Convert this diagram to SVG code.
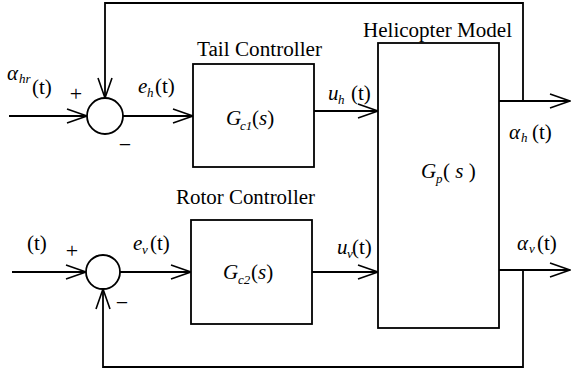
<svg xmlns="http://www.w3.org/2000/svg" width="571" height="369" viewBox="0 0 571 369">
  <style>
    .ln { fill: none; stroke: #000; stroke-width: 1.8; }
    .blk { fill: #fff; stroke: #000; stroke-width: 1.8; }
    .ah { fill: none; stroke: #000; stroke-width: 1.6; stroke-linejoin: miter; }
    text { font-family: "Liberation Serif", "Times New Roman", Times, "DejaVu Serif", serif; fill: #000; }
    .lbl { font-size: 20.5px; }
    .v { font-size: 21px; font-style: italic; }
    .sub { font-size: 13px; font-style: italic; }
    .r { font-size: 21px; }
    .sg { font-size: 22px; }
  </style>
  <defs>
    <!-- open chevron arrowhead -->
    <marker id="arr" viewBox="0 0 22 16" refX="21" refY="8" markerWidth="22" markerHeight="16" markerUnits="userSpaceOnUse" orient="auto">
      <path class="ah" d="M1,1 L21,8 L1,15"/>
    </marker>
  </defs>

  <!-- connectors -->
  <g id="connectors">
    <line class="ln" x1="9" y1="116" x2="87" y2="116" marker-end="url(#arr)"/>
    <line class="ln" x1="123" y1="116" x2="193" y2="116" marker-end="url(#arr)"/>
    <line class="ln" x1="314" y1="111" x2="378" y2="111" marker-end="url(#arr)"/>
    <line class="ln" x1="499" y1="101" x2="570" y2="101" marker-end="url(#arr)"/>
    <polyline class="ln" points="523,101 523,3 105,3 105,98" marker-end="url(#arr)"/>

    <line class="ln" x1="12" y1="272" x2="86" y2="272" marker-end="url(#arr)"/>
    <line class="ln" x1="120" y1="272" x2="191" y2="272" marker-end="url(#arr)"/>
    <line class="ln" x1="312" y1="272" x2="378" y2="272" marker-end="url(#arr)"/>
    <line class="ln" x1="499" y1="270" x2="570" y2="270" marker-end="url(#arr)"/>
    <polyline class="ln" points="523,270 523,367 103,367 103,289" marker-end="url(#arr)"/>
  </g>

  <!-- summing junction, tail loop -->
  <g id="sum-tail">
    <circle class="blk" cx="105" cy="116" r="18"/>
    <text class="sg" x="76" y="101" text-anchor="middle">+</text>
    <text class="sg" x="125" y="152" text-anchor="middle">−</text>
  </g>

  <!-- summing junction, rotor loop -->
  <g id="sum-rotor">
    <circle class="blk" cx="103" cy="272" r="17"/>
    <text class="sg" x="72" y="258" text-anchor="middle">+</text>
    <text class="sg" x="122" y="310" text-anchor="middle">−</text>
  </g>

  <g id="tail-controller">
    <rect class="blk" x="193" y="64" width="121" height="103"/>
    <text class="lbl" x="197" y="56" textLength="125" lengthAdjust="spacingAndGlyphs">Tail Controller</text>
    <text class="v" x="226" y="125">G</text>
    <text class="sub" x="240" y="130">c1</text>
    <text class="r" x="252" y="125">(<tspan font-style="italic">s</tspan>)</text>
  </g>

  <g id="rotor-controller">
    <rect class="blk" x="191" y="220" width="121" height="104"/>
    <text class="lbl" x="176" y="204" textLength="139" lengthAdjust="spacingAndGlyphs">Rotor Controller</text>
    <text class="v" x="223" y="279">G</text>
    <text class="sub" x="238" y="284">c2</text>
    <text class="r" x="251" y="279">(<tspan font-style="italic">s</tspan>)</text>
  </g>

  <g id="helicopter-model">
    <rect class="blk" x="378" y="43" width="121" height="285"/>
    <text class="lbl" x="363" y="37" textLength="149" lengthAdjust="spacingAndGlyphs">Helicopter Model</text>
    <text class="v" x="421" y="178">G</text>
    <text class="sub" x="436" y="183">p</text>
    <text class="r" x="443" y="178">( <tspan font-style="italic">s</tspan> )</text>
  </g>

  <!-- signal labels -->
  <g id="signals">
    <text class="v" x="7" y="80">α</text>
    <text class="sub" x="19" y="83">hr</text>
    <text class="r" x="32" y="94">(t)</text>

    <text class="v" x="138" y="93">e</text>
    <text class="sub" x="147" y="97">h</text>
    <text class="r" x="155" y="93">(t)</text>

    <text class="v" x="328" y="100">u</text>
    <text class="sub" x="338" y="104">h</text>
    <text class="r" x="351" y="100">(t)</text>

    <text class="v" x="509" y="139">α</text>
    <text class="sub" x="521" y="142">h</text>
    <text class="r" x="532" y="139">(t)</text>

    <text class="r" x="27" y="250">(t)</text>

    <text class="v" x="133" y="250">e</text>
    <text class="sub" x="142" y="254">v</text>
    <text class="r" x="150" y="250">(t)</text>

    <text class="v" x="337" y="254">u</text>
    <text class="sub" x="347" y="258">v</text>
    <text class="r" x="352" y="254">(t)</text>

    <text class="v" x="517" y="250">α</text>
    <text class="sub" x="529" y="253">v</text>
    <text class="r" x="537" y="250">(t)</text>
  </g>
</svg>
